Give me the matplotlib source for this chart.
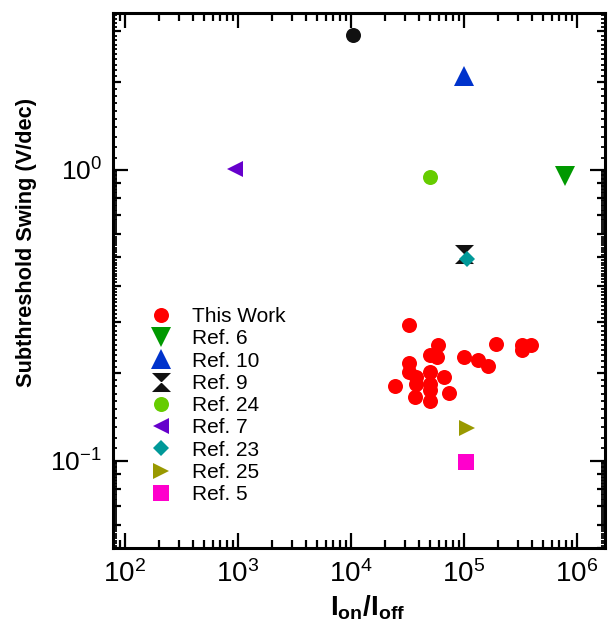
import numpy as np
import matplotlib
matplotlib.use("Agg")
import matplotlib.pyplot as plt
from matplotlib.path import Path
from matplotlib.ticker import LogLocator, FixedLocator, NullFormatter

plt.rcParams['font.family'] = ['Liberation Sans', 'DejaVu Sans']
plt.rcParams['mathtext.fontset'] = 'custom'
plt.rcParams['mathtext.rm'] = 'Liberation Sans'
plt.rcParams['mathtext.it'] = 'Liberation Sans:italic'
plt.rcParams['mathtext.bf'] = 'Liberation Sans:bold'

# ---- data ----
this_work_x = [32600, 58900, 50000, 57700, 100000, 192000, 133000, 163000, 326000,
               392000, 326000, 32600, 32600, 50000, 37600, 37600, 66500, 24500,
               50000, 73600, 36800, 50000, 50000]
this_work_y = [0.293, 0.250, 0.231, 0.228, 0.228, 0.252, 0.221, 0.212, 0.241,
               0.250, 0.250, 0.217, 0.201, 0.201, 0.194, 0.184, 0.194, 0.180,
               0.175, 0.171, 0.165, 0.160, 0.184]

ref_labels = ['Ref. 6', 'Ref. 10', 'Ref. 9', 'Ref. 24', 'Ref. 7', 'Ref. 23', 'Ref. 25', 'Ref. 5']
ref_x = [783000, 100000, 100000, 50000, 940, 107000, 107000, 104000]
ref_y = [0.953, 2.10, 0.513, 0.946, 1.01, 0.493, 0.129, 0.099]

extra_x = [10400]   # unlabeled black point
extra_y = [2.91]

# ---- styles ----
hourglass = Path([(-1, 1), (1, 1), (0, 0), (-1, 1), (-1, -1), (1, -1), (0, 0), (-1, -1)],
                 [Path.MOVETO, Path.LINETO, Path.LINETO, Path.CLOSEPOLY,
                  Path.MOVETO, Path.LINETO, Path.LINETO, Path.CLOSEPOLY])
ref_markers = ['v', '^', hourglass, 'o', '<', 'D', '>', 's']
ref_colors = ['#009900', '#0033CC', '#111111', '#66CC00', '#6600CC', '#009999', '#999900', '#FF00CC']
ref_sizes = [14, 13.7, 13.7, 10.8, 11.3, 8.3, 11.5, 11.5]

fig = plt.figure(figsize=(6.1, 6.25), dpi=100)
ax = fig.add_axes([113/610, 1-548/625, (605-113)/610, (548-13)/625])

ax.plot(this_work_x, this_work_y, 'o', color='#FF0000', ms=10.8, mew=0, label='This Work', zorder=3)
for x, y, lab, m, c, s in zip(ref_x, ref_y, ref_labels, ref_markers, ref_colors, ref_sizes):
    ax.plot([x], [y], linestyle='none', marker=m, color=c, ms=s, mew=0, label=lab, zorder=3)
ax.plot(extra_x, extra_y, 'o', color='#111111', ms=10.8, mew=0, zorder=3, clip_on=False)

ax.set_xscale('log')
ax.set_yscale('log')
ax.set_xlim(10**1.894, 10**6.25)
ax.set_ylim(0.05, 10**0.54)

ax.xaxis.set_major_locator(LogLocator(base=10, numticks=10))
ax.xaxis.set_minor_locator(LogLocator(base=10, subs=np.arange(2, 10), numticks=20))
ax.xaxis.set_minor_formatter(NullFormatter())
ax.yaxis.set_major_locator(FixedLocator([0.1, 1.0]))
ax.yaxis.set_minor_locator(LogLocator(base=10, subs=np.arange(2, 10), numticks=20))
ax.yaxis.set_minor_formatter(NullFormatter())

for sp in ax.spines.values():
    sp.set_linewidth(2.2)

ax.tick_params(axis='both', which='major', direction='in', top=True, right=True,
               length=11, width=1.6)
ax.tick_params(axis='both', which='minor', direction='in', top=True, right=True,
               length=5.5, width=1.6)
ax.tick_params(axis='x', which='major', labelsize=20, pad=9)
ax.tick_params(axis='y', which='major', labelsize=19, pad=8)

# fine y ticks on an overlay axes
ax2 = fig.add_axes(ax.get_position(), frameon=False)
ax2.set_yscale('log')
ax2.set_ylim(ax.get_ylim())
ax2.set_xticks([])
fine = []
for d in [-2, -1, 0]:
    for k in range(11, 100):
        if k % 10:
            v = k * 10.0 ** (d - 1)
            if 0.05 < v < 10**0.54:
                fine.append(v)
ax2.yaxis.set_major_locator(FixedLocator(fine))
ax2.yaxis.set_minor_locator(FixedLocator([]))
ax2.tick_params(axis='y', which='major', direction='in', left=True, right=True,
                labelleft=False, labelright=False, length=3.2, width=1.3)
ax2.patch.set_visible(False)

ax.set_xlabel(r'$\mathbf{I_{on}/I_{off}}$', fontsize=20)
ax.xaxis.set_label_coords(0.517, -0.085)
ax.set_ylabel('Subthreshold Swing (V/dec)', fontsize=15.7, fontweight='bold')
ax.yaxis.set_label_coords(-0.155, 0.572)

leg = ax.legend(loc='upper left', bbox_to_anchor=(0.077, 0.45), frameon=False,
                fontsize=15, handlelength=1.0, handletextpad=0.95, markerscale=1.0,
                labelspacing=0.155, borderpad=0, borderaxespad=0)

fig.savefig('out.png', dpi=100)
